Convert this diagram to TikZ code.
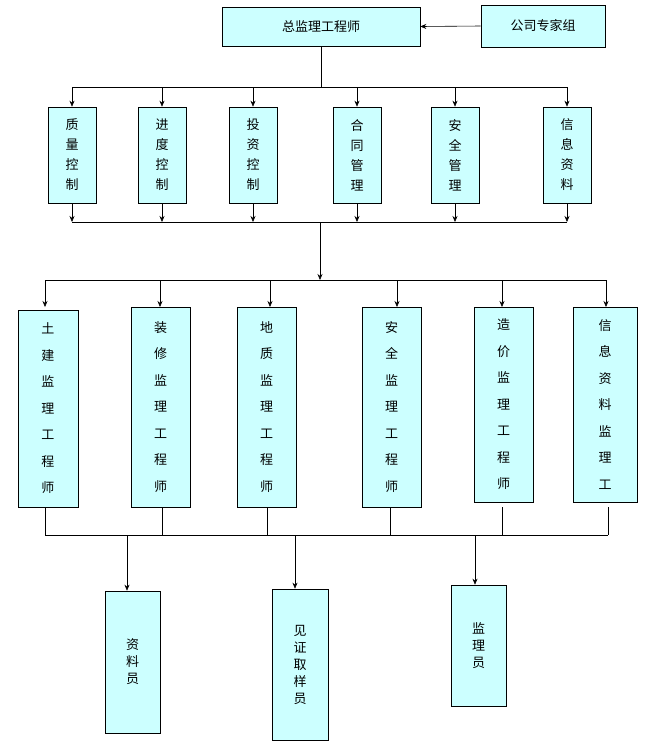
\documentclass[tikz,border=0pt]{standalone}
\usepackage{fontspec}
\setmainfont{Noto Sans CJK SC}
\usetikzlibrary{arrows.meta}
\definecolor{boxfill}{HTML}{CCFFFF}
\tikzset{
  x=1pt,y=-1pt,
  bx/.style={draw=black,fill=boxfill,inner sep=0pt,align=center,font=\fontsize{13}{20}\selectfont},
  ar/.style={-{Stealth[length=6pt,width=5pt]}},
  ln/.style={line width=0.6pt}
}
\newcommand{\bxat}[6]{% name, x1,y1,x2,y2, text
  \node[bx,minimum width={(#4)-(#2)},minimum height={(#5)-(#3)}] (#1) at ({((#2)+(#4))/2},{((#3)+(#5))/2}) {#6};}
\begin{document}
\begin{tikzpicture}[ln]
\useasboundingbox (0,0) rectangle (650,745);
\bxat{top}{222}{7}{420}{46}{总监理工程师}
\bxat{exp}{481}{5}{605}{47}{公司专家组}
\draw[ar] (exp.west) -- (top.east);
% row 2
\foreach \n/\c/\t in {a/72/质\\量\\控\\制, b/162/进\\度\\控\\制, c/253/投\\资\\控\\制, d/357/合\\同\\管\\理, e/455/安\\全\\管\\理, f/567/信\\息\\资\\料}{
  \bxat{r2\n}{\c-24}{107}{\c+24}{203}{\t}
}
\coordinate (j1) at (top.south |- 0,87);
\draw (top.south) -- (j1);
\draw (r2a.north |- j1) -- (r2f.north |- j1);
\foreach \n in {a,b,c,d,e,f}{
  \draw[ar] (r2\n.north |- j1) -- (r2\n.north);
  \coordinate (k\n) at (r2\n.south |- 0,222);
  \draw[ar] (r2\n.south) -- (k\n);
}
\draw (ka) -- (kf);
\coordinate (j2) at (320,222);
\coordinate (j3) at (320,280);
\draw[ar] (j2) -- (j3);
% row 3
\tikzset{bx/.append style={font=\fontsize{13}{26.5}\selectfont}}
\bxat{r3a}{18}{310}{78}{507}{土\\建\\监\\理\\工\\程\\师}
\bxat{r3b}{131}{307}{190}{507}{装\\修\\监\\理\\工\\程\\师}
\bxat{r3c}{237}{307}{296}{507}{地\\质\\监\\理\\工\\程\\师}
\bxat{r3d}{362}{307}{421}{507}{安\\全\\监\\理\\工\\程\\师}
\bxat{r3e}{474}{307}{533}{502}{造\\价\\监\\理\\工\\程\\师}
\bxat{r3f}{573}{307}{637}{502}{信\\息\\资\\料\\监\\理\\工}
\coordinate (h3a) at (45,280);
\coordinate (h3f) at (606,280);
\draw (h3a) -- (h3f);
\foreach \n/\x in {a/45,b/160,c/270,d/397,e/502,f/606}{
  \coordinate (t\n) at (\x,280);
  \draw[ar] (t\n) -- (\x,307);
}
\coordinate (l4a) at (45,535);
\coordinate (l4f) at (608,535);
\draw (l4a) -- (l4f);
\foreach \n/\x in {a/45,b/162,c/267,d/390,e/502,f/608}{
  \draw (\x,507) -- (\x,535);
}
% row 4
\tikzset{bx/.append style={font=\fontsize{13}{17}\selectfont}}
\bxat{r4a}{105}{591}{160}{733}{资\\料\\员}
\bxat{r4b}{272}{589}{328}{740}{见\\证\\取\\样\\员}
\bxat{r4c}{451}{585}{506}{706}{监\\理\\员}
\foreach \n/\x in {a/127,b/295,c/475}{
  \coordinate (s\n) at (\x,535);
  \draw[ar] (s\n) -- (s\n |- r4\n.north);
}
\end{tikzpicture}
\end{document}
